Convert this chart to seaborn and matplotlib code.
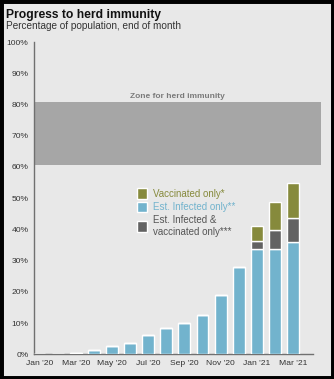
import matplotlib
matplotlib.use("Agg")
import matplotlib.pyplot as plt
from matplotlib.patches import Rectangle, Patch
import seaborn as sns
import pandas as pd
import numpy as np

months = ["Jan '20", "Feb '20", "Mar '20", "Apr '20", "May '20", "Jun '20", "Jul '20",
          "Aug '20", "Sep '20", "Oct '20", "Nov '20", "Dec '20", "Jan '21", "Feb '21", "Mar '21"]
infected_only = [0.0, 0.05, 0.3, 1.4, 2.6, 3.6, 6.3, 8.4, 10.0, 12.7, 19.0, 28.0, 33.7, 33.8, 35.9]
infected_vacc = [0, 0, 0, 0, 0, 0, 0, 0, 0, 0, 0, 0, 2.6, 5.9, 7.7]
vacc_only = [0, 0, 0, 0, 0, 0, 0, 0, 0, 0, 0, 0, 4.9, 9.1, 11.3]
xtick_labels = ["Jan '20", "Mar '20", "May '20", "Jul '20", "Sep '20", "Nov '20", "Jan '21", "Mar '21"]
zone_low, zone_high = 60.7, 80.7

c_inf = "#72b3cd"
c_iv = "#626262"
c_vac = "#868a3c"
c_zone = "#a6a6a6"
bg = "#e8e8e8"

df = pd.DataFrame({"month": months, "inf": infected_only, "iv": infected_vacc, "vac": vacc_only})
df["b2"] = df["inf"] + df["iv"]

sns.set_style("white")
plt.rcParams["font.family"] = ["Liberation Sans", "DejaVu Sans"]

fig = plt.figure(figsize=(3.34, 3.79), dpi=100, facecolor=bg)
ax = fig.add_axes([0.102, 0.065, 0.835, 0.824])
ax.set_facecolor(bg)

w = 0.66
sns.barplot(data=df, x="month", y="inf", color=c_inf, width=w, ax=ax, saturation=1, zorder=3)
sns.barplot(data=df, x="month", y="iv", bottom=df["inf"], color=c_iv, width=w, ax=ax, saturation=1, zorder=3)
sns.barplot(data=df, x="month", y="vac", bottom=df["b2"], color=c_vac, width=w, ax=ax, saturation=1, zorder=3)

ax.set_xlim(-0.3, 15.1)
ax.set_ylim(0, 100)

# herd immunity zone
ax.add_patch(Rectangle((-0.3, zone_low), 15.85, zone_high - zone_low, facecolor=c_zone,
                       edgecolor="none", clip_on=False, zorder=1))
ax.text(7.6, zone_high + 0.8, "Zone for herd immunity", ha="center", va="bottom",
        fontsize=6.0, color="#7a7a7a", fontweight="bold")

ax.set_yticks(np.arange(0, 101, 10))
ax.set_yticklabels([f"{v}%" for v in range(0, 101, 10)])
ax.set_xticks(range(0, 15, 2))
ax.set_xticklabels(xtick_labels)
ax.set_xlabel("")
ax.set_ylabel("")
ax.tick_params(axis="both", labelsize=6.1, colors="#333333", length=2.5, width=0.7, pad=1.5)
ax.tick_params(axis="both", color="#707070")

for s in ["top", "right"]:
    ax.spines[s].set_visible(False)
for s in ["left", "bottom"]:
    ax.spines[s].set_color("#707070")
    ax.spines[s].set_linewidth(1.0)

handles = [Patch(facecolor=c_vac), Patch(facecolor=c_inf), Patch(facecolor=c_iv)]
labels = ["Vaccinated only*", "Est. Infected only**", "Est. Infected &\nvaccinated only***"]
leg = ax.legend(handles, labels, loc="upper left", bbox_to_anchor=(0.356, 0.545), frameon=False,
                fontsize=7.0, handlelength=1.0, handleheight=1.3, handletextpad=0.6,
                labelspacing=0.3, borderaxespad=0,
                labelcolor=[c_vac, c_inf, "#555555"])

fig.text(0.018, 0.961, "Progress to herd immunity", fontsize=8.7, fontweight="bold",
         color="#111111", va="center", ha="left")
fig.text(0.018, 0.931, "Percentage of population, end of month", fontsize=7.2,
         color="#333333", va="center", ha="left")

fig.patches.append(Rectangle((0, 0), 1, 1, transform=fig.transFigure, fill=False,
                             edgecolor="black", linewidth=5, zorder=10))

fig.savefig("out.png", dpi=100, facecolor=bg)
